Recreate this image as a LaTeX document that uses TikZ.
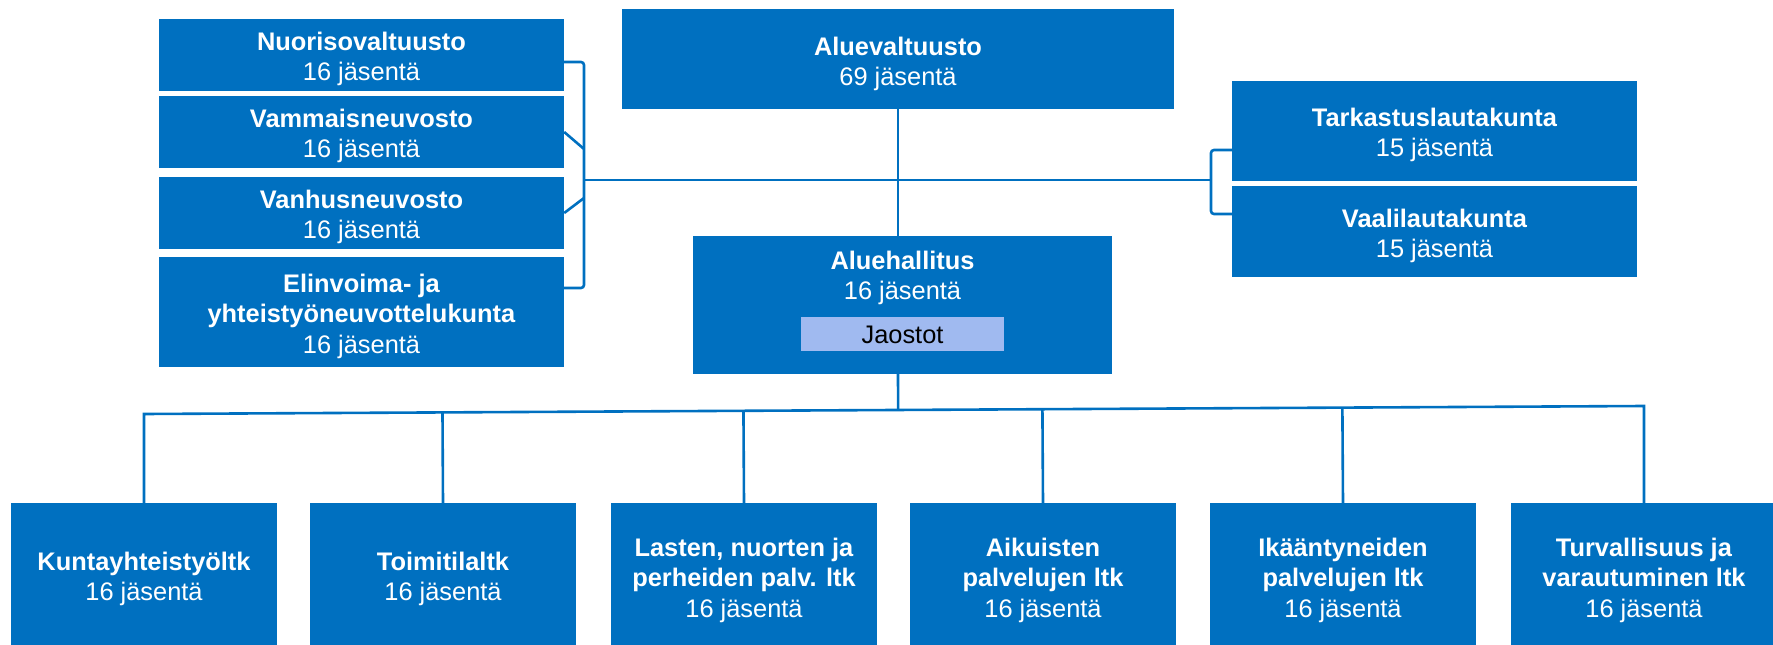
\documentclass[tikz,border=0pt]{standalone}
\usepackage{fontspec}
\setmainfont{Liberation Sans}
\usetikzlibrary{calc}
\definecolor{boxblue}{RGB}{0,112,192}
\definecolor{jblue}{RGB}{160,186,240}
\newcommand{\topstrut}{\rule{0pt}{20pt}}
\newcommand{\botstrut}{\rule[-6pt]{0pt}{6pt}}
\begin{document}
\begin{tikzpicture}[x=1pt,y=-1pt,
  blk/.style={fill=boxblue, draw=none, inner sep=0pt},
  txt/.style={anchor=north, inner sep=0pt, align=center, text=white,
              font=\fontsize{25.4}{30.5}\selectfont},
  conn/.style={draw=boxblue, line width=2.6pt}]
\useasboundingbox (0,0) rectangle (1773,645);

% left column
\node[blk, minimum width=405pt, minimum height=72pt]  (nv) at (361.5,55) {};
\node[blk, minimum width=405pt, minimum height=72pt]  (vm) at (361.5,132) {};
\node[blk, minimum width=405pt, minimum height=72pt]  (vh) at (361.5,213) {};
\node[blk, minimum width=405pt, minimum height=110pt] (ev) at (361.5,312) {};
% centre
\node[blk, minimum width=552pt, minimum height=100pt] (av) at (898,59) {};
\node[blk, minimum width=419pt, minimum height=138pt] (ah) at (902.5,305) {};
\node[fill=jblue, inner sep=0pt, minimum width=203pt, minimum height=34pt,
      text height=18.2pt, text depth=0pt, font=\fontsize{25.4}{30.5}\selectfont]
      (jo) at (902.5,334) {Jaostot};
% right column
\node[blk, minimum width=405pt, minimum height=100pt] (tk) at (1434.5,131) {};
\node[blk, minimum width=405pt, minimum height=91pt]  (vl) at (1434.5,231.5) {};
% bottom row
\node[blk, minimum width=266pt, minimum height=148pt] (k1) at (144,577) {};
\node[blk, minimum width=266pt, minimum height=148pt] (k2) at (443,577) {};
\node[blk, minimum width=266pt, minimum height=148pt] (k3) at (744,577) {};
\node[blk, minimum width=266pt, minimum height=148pt] (k4) at (1043,577) {};
\node[blk, minimum width=266pt, minimum height=148pt] (k5) at (1343,577) {};
\node[blk, minimum width=266pt, minimum height=148pt] (k6) at (1644,577) {};

% connectors
\coordinate (lb) at (584,180);
\coordinate (lb1) at (584,149);
\coordinate (lb2) at (584,198);
\coordinate (rb) at (1211,180);
\draw[conn, rounded corners=3pt] ([yshift=-7pt]nv.east) -| (lb) |- ([yshift=24pt]ev.east);
\draw[conn] (vm.east) -- (lb1);
\draw[conn] (vh.east) -- (lb2);
\draw[conn] (lb) -- (rb);
\draw[conn, rounded corners=3pt] ([yshift=-19pt]tk.west) -| (rb) |- ([yshift=17.5pt]vl.west);
\draw[conn] (av.south) -- (av.south |- ah.north);
\coordinate (b1) at (144,414);
\coordinate (b6) at (1644,406);
\draw[conn] (k1.north) -- (b1) -- (b6) -- (k6.north);
\draw[conn] (ah.south -| av.south) -- ($(b1)!(ah.south -| av.south)!(b6)$);
\draw[conn] (k2.north) -- ($(b1)!(k2.north)!(b6)$);
\draw[conn] (k3.north) -- ($(b1)!(k3.north)!(b6)$);
\draw[conn] (k4.north) -- ($(b1)!(k4.north)!(b6)$);
\draw[conn] (k5.north) -- ($(b1)!(k5.north)!(b6)$);

% texts
\node[txt] (nvt) at (361.5,30)  {\topstrut\textbf{Nuorisovaltuusto}\\16 jäsentä\botstrut};
\node[txt] (vmt) at (361.5,107) {\topstrut\textbf{Vammaisneuvosto}\\16 jäsentä\botstrut};
\node[txt] (vht) at (361.5,188) {\topstrut\textbf{Vanhusneuvosto}\\16 jäsentä\botstrut};
\node[txt] (evt) at (361.5,272) {\topstrut\textbf{Elinvoima- ja}\\\textbf{yhteistyöneuvottelukunta}\\16 jäsentä\botstrut};
\node[txt] (avt) at (898,35)    {\topstrut\textbf{Aluevaltuusto}\\69 jäsentä\botstrut};
\node[txt] (aht) at (902.5,249) {\topstrut\textbf{Aluehallitus}\\16 jäsentä\botstrut};
\node[txt] (tkt) at (1434.5,106) {\topstrut\textbf{Tarkastuslautakunta}\\15 jäsentä\botstrut};
\node[txt] (vlt) at (1434.5,207) {\topstrut\textbf{Vaalilautakunta}\\15 jäsentä\botstrut};
\node[txt] (k1t) at (144,550)  {\topstrut\textbf{Kuntayhteistyöltk}\\16 jäsentä\botstrut};
\node[txt] (k2t) at (443,550)  {\topstrut\textbf{Toimitilaltk}\\16 jäsentä\botstrut};
\node[txt] (k3t) at (744,536)  {\topstrut\textbf{Lasten, nuorten ja}\\\textbf{perheiden palv. ltk}\\16 jäsentä\botstrut};
\node[txt] (k4t) at (1043,536) {\topstrut\textbf{Aikuisten}\\\textbf{palvelujen ltk}\\16 jäsentä\botstrut};
\node[txt] (k5t) at (1343,536) {\topstrut\textbf{Ikääntyneiden}\\\textbf{palvelujen ltk}\\16 jäsentä\botstrut};
\node[txt] (k6t) at (1644,536) {\topstrut\textbf{Turvallisuus ja}\\\textbf{varautuminen ltk}\\16 jäsentä\botstrut};
\end{tikzpicture}
\end{document}
